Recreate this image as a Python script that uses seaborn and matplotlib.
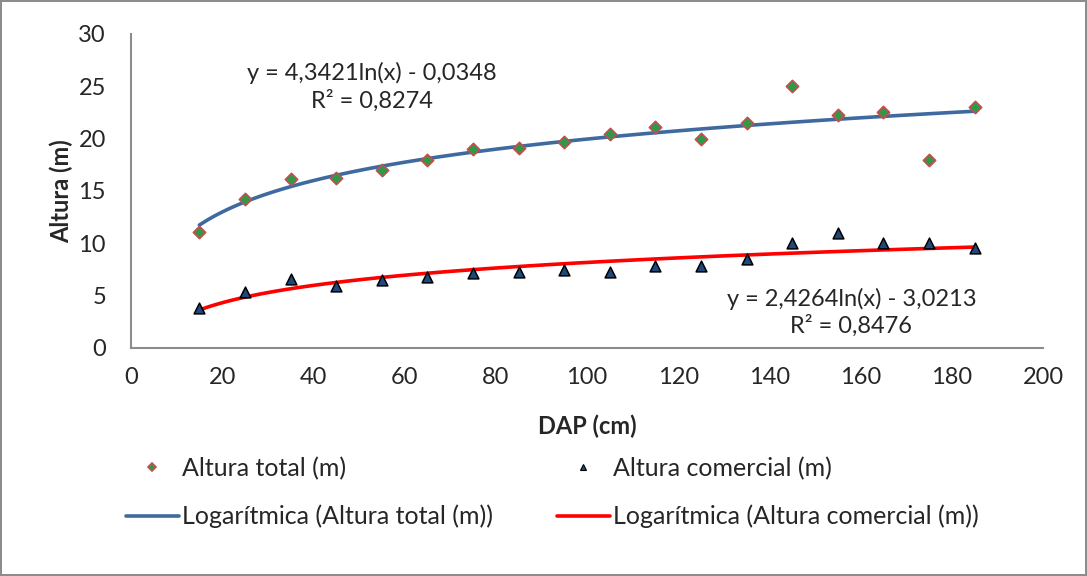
import numpy as np
import pandas as pd
import seaborn as sns
import matplotlib.pyplot as plt
from matplotlib.lines import Line2D

sns.set_style('white')
plt.rcParams['font.family'] = ['Lato', 'DejaVu Sans']

# dados
dap = [15, 25, 35, 45, 55, 65, 75, 85, 95, 105, 115, 125, 135, 145, 155, 165, 175, 185]
altura_total = [11.1, 14.2, 16.1, 16.2, 17.0, 18.0, 19.0, 19.1, 19.7, 20.4, 21.1, 20.0,
                21.5, 25.0, 22.3, 22.5, 18.0, 23.0]
altura_comercial = [3.8, 5.3, 6.6, 5.9, 6.5, 6.8, 7.2, 7.3, 7.4, 7.3, 7.8, 7.8,
                    8.5, 10.0, 11.0, 10.0, 10.0, 9.5]

eq_total = 'y = 4,3421ln(x) - 0,0348\nR² = 0,8274'
eq_comercial = 'y = 2,4264ln(x) - 3,0213\nR² = 0,8476'

df = pd.DataFrame({'dap': dap, 'total': altura_total, 'comercial': altura_comercial})

azul = '#3F6AA0'
vermelho = '#FF0000'
fs = 17

fig = plt.figure(figsize=(10.87, 5.76), dpi=100, linewidth=1.5, edgecolor='#8C8C8C')
ax = fig.add_axes([0.1205, 0.396, 0.839, 0.545])

# linhas de tendencia logaritmicas
sns.regplot(data=df, x='dap', y='total', logx=True, ci=None, scatter=False,
            line_kws={'color': azul, 'lw': 2.6}, ax=ax)
sns.regplot(data=df, x='dap', y='comercial', logx=True, ci=None, scatter=False,
            line_kws={'color': vermelho, 'lw': 2.6}, ax=ax)

sns.scatterplot(data=df, x='dap', y='total', marker='D', s=38, color='#2E9A48',
                edgecolor='#C0504D', linewidth=1.3, ax=ax, zorder=4)
sns.scatterplot(data=df, x='dap', y='comercial', marker='^', s=60, color='#1F497D',
                edgecolor='black', linewidth=1.1, ax=ax, zorder=4)

ax.set_xlim(0, 200)
ax.set_ylim(0, 30)
ax.set_xticks(range(0, 201, 20))
ax.set_yticks(range(0, 31, 5))
ax.tick_params(labelsize=fs, length=0)
ax.tick_params(axis='x', pad=14)
ax.tick_params(axis='y', pad=18)
for s in ['top', 'right']:
    ax.spines[s].set_visible(False)
for s in ['left', 'bottom']:
    ax.spines[s].set_color('#8C8C8C')
    ax.spines[s].set_linewidth(1.5)
ax.set_xlabel('DAP (cm)', fontsize=fs, fontweight='bold', labelpad=19)
ax.set_ylabel('Altura (m)', fontsize=fs, fontweight='bold', labelpad=4)

ax.text(0.264, 0.831, eq_total, transform=ax.transAxes, ha='center', va='center',
        fontsize=fs, linespacing=1.3)
ax.text(0.79, 0.113, eq_comercial, transform=ax.transAxes, ha='center', va='center',
        fontsize=fs, linespacing=1.3)

handles = [
    Line2D([], [], ls='none', marker='D', ms=4, mfc='#2E9A48', mec='#C0504D', mew=1.2),
    Line2D([], [], color=azul, lw=2.6),
    Line2D([], [], ls='none', marker='^', ms=5, mfc='#1F497D', mec='black', mew=0.8),
    Line2D([], [], color=vermelho, lw=2.6),
]
labels = ['Altura total (m)', 'Logarítmica (Altura total (m))',
          'Altura comercial (m)', 'Logarítmica (Altura comercial (m))']
fig.legend(handles, labels, ncol=2, loc='center left', bbox_to_anchor=(0.104, 0.145),
           frameon=False, fontsize=18, handlelength=2.15, handletextpad=0.1,
           columnspacing=2.55, labelspacing=1.0, borderpad=0)

fig.savefig('out.png', dpi=100, edgecolor=fig.get_edgecolor())
